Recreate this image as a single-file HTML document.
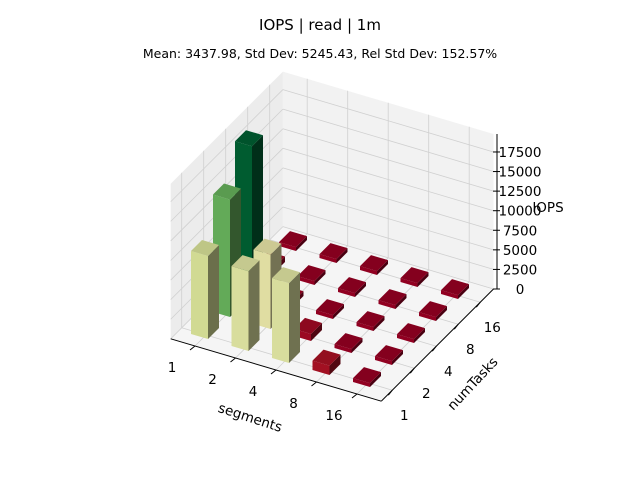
<!DOCTYPE html>
<html><head><meta charset="utf-8"><style>
body{margin:0;background:#fff;}
svg{display:block;font-family:"DejaVu Sans","Liberation Sans",sans-serif;}
</style></head><body>
<svg id="chart" width="640" height="480" viewBox="0 0 640 480">
<text x="320" y="30" text-anchor="middle" font-size="15">IOPS | read | 1m</text>
<text x="320" y="58" text-anchor="middle" font-size="12.5">Mean: 3437.98, Std Dev: 5245.43, Rel Std Dev: 152.57%</text>
<g id="panes"></g><g id="grid"></g><g id="bars"></g><g id="axes"></g>
</svg>
<script>
const segments = ["1","2","4","8","16"];
const numTasks = ["1","2","4","8","16"];
// rows indexed by numTasks, columns by segments
const iopsNt1 = [10600, 10200, 10200, 1200, 500];
const iopsNt2 = [15000, 9500, 900, 500, 500];
const iopsNt4 = [19000, 600, 500, 500, 500];
const iopsNt8 = [700, 500, 500, 500, 500];
const iopsNt16 = [500, 500, 500, 500, 500];
const zTicks = [0, 2500, 5000, 7500, 10000, 12500, 15000, 17500];

const iops = [iopsNt1, iopsNt2, iopsNt4, iopsNt8, iopsNt16];
const NS = "http://www.w3.org/2000/svg";
const S0 = -0.6, S1 = 4.6, T0 = -0.5, T1 = 4.6, ZMAX = 19800;
function P(s, t, z) {
  return [206 + 40.5 * s + 22 * t, 335 + 12 * s - 22 * t - z * 0.00783];
}
function PB(s, t, z) {
  const p = P(s, t, z);
  return [p[0] - 1, p[1] - 4];
}
function mk(tag, attrs, parent) {
  const e = document.createElementNS(NS, tag);
  for (const k in attrs) e.setAttribute(k, attrs[k]);
  parent.appendChild(e);
  return e;
}
function poly(pts) { return pts.map(p => p[0].toFixed(1) + "," + p[1].toFixed(1)).join(" "); }
const panes = document.getElementById("panes");
const grid = document.getElementById("grid");
const barsG = document.getElementById("bars");
const axesG = document.getElementById("axes");

let e;
e = mk("polygon", {points: poly([P(S0,T0,0),P(S1,T0,0),P(S1,T1,0),P(S0,T1,0)]), fill: "#f5f5f5"}, panes);


e = mk("polygon", {points: poly([P(S0,T0,0),P(S0,T1,0),P(S0,T1,ZMAX),P(S0,T0,ZMAX)]), fill: "#ececec"}, panes);


e = mk("polygon", {points: poly([P(S0,T1,0),P(S1,T1,0),P(S1,T1,ZMAX),P(S0,T1,ZMAX)]), fill: "#f2f2f2"}, panes);



function line(a, b, stroke, w, parent, name) {
  const l = mk("line", {x1: a[0], y1: a[1], x2: b[0], y2: b[1], stroke: stroke, "stroke-width": w}, parent);
  
  
  return l;
}
const GC = "#d0d0d0";
segments.forEach((lab, i) => {
  line(P(i,T0,0), P(i,T1,0), GC, 0.8, grid, 'floor-grid-segments');
  line(P(i,T1,0), P(i,T1,ZMAX), GC, 0.8, grid, 'backwall-grid-segments');
});
numTasks.forEach((lab, j) => {
  line(P(S0,j,0), P(S1,j,0), GC, 0.8, grid, 'floor-grid-numtasks');
  line(P(S0,j,0), P(S0,j,ZMAX), GC, 0.8, grid, 'leftwall-grid-numtasks');
});
zTicks.forEach(z => {
  line(P(S0,T0,z), P(S0,T1,z), GC, 0.8, grid, 'leftwall-grid-z');
  line(P(S0,T1,z), P(S1,T1,z), GC, 0.8, grid, 'backwall-grid-z');
});

const cmap = ["#a50026","#d73027","#f46d43","#fdae61","#fee08b","#ffffbf","#d9ef8b","#a6d96a","#66bd63","#1a9850","#006837"];
function hex(h){return [parseInt(h.substr(1,2),16),parseInt(h.substr(3,2),16),parseInt(h.substr(5,2),16)];}
function color(f, shade) {
  f = Math.max(0, Math.min(1, f)) * 10;
  const k = Math.min(9, Math.floor(f)), r = f - k;
  const a = hex(cmap[k]), b = hex(cmap[k+1]);
  const c = a.map((v, n) => Math.round((v + (b[n] - v) * r) * shade));
  return "rgb(" + c.join(",") + ")";
}
const all = iops.flat();
const vmin = Math.min(...all), vmax = Math.max(...all);
const list = [];
iops.forEach((row, j) => row.forEach((v, i) => list.push({i, j, v})));
list.sort((a, b) => (a.i - a.j) - (b.i - b.j));
const DS = 0.21, DT = 0.25;
list.forEach(b => {
  const f = (b.v - vmin) / (vmax - vmin);
  const s0 = b.i - DS, s1 = b.i + DS, t0 = b.j - DT, t1 = b.j + DT;
  const g = mk("g", {}, barsG);
  
  
  mk("polygon", {points: poly([PB(s0,t0,0),PB(s1,t0,0),PB(s1,t0,b.v),PB(s0,t0,b.v)]), fill: color(f, 0.88)}, g);
  mk("polygon", {points: poly([PB(s1,t0,0),PB(s1,t1,0),PB(s1,t1,b.v),PB(s1,t0,b.v)]), fill: color(f, 0.45)}, g);
  mk("polygon", {points: poly([PB(s0,t0,b.v),PB(s1,t0,b.v),PB(s1,t1,b.v),PB(s0,t1,b.v)]), fill: color(f, 0.8)}, g);
});

line(P(S0,T0,0), P(S1,T0,0), "#000", 1, axesG, 'segments-axis-line');
line(P(S1,T0,0), P(S1,T1,0), "#000", 1, axesG, 'numtasks-axis-line');
line([497,P(S1,T1,0)[1]], [497,P(S1,T1,ZMAX)[1]], "#000", 1, axesG, 'z-axis-line');
function txt(x, y, s, anchor, name, rot, size) {
  const t = mk("text", {x: x, y: y, "text-anchor": anchor || "middle", "font-size": size || 13.5, "dominant-baseline": "middle"}, axesG);
  if (rot) t.setAttribute("transform", "rotate(" + rot + " " + x + " " + y + ")");
  t.textContent = s;
  
  
}
segments.forEach((lab, i) => {
  const a = P(i, T0, 0);
  line(a, [a[0]-5, a[1]+4], "#000", 1, axesG, 'segments-tick');
  txt(a[0] - 23, a[1] + 22, lab, "middle", 'segments-tick-label');
});
numTasks.forEach((lab, j) => {
  const a = P(S1, j, 0);
  line(a, [a[0]-4, a[1]+5], "#000", 1, axesG, 'numtasks-tick');
  txt(a[0] + 12, a[1] + 26, lab, "middle", 'numtasks-tick-label');
});
zTicks.forEach(z => {
  const y = P(S1, T1, z)[1];
  line([493, y], [500, y], "#000", 1, axesG, 'z-tick');
  txt(520, y + 1, String(z), "middle", 'z-tick-label');
});
txt(250, 418, "segments", "middle", 'segments-axis-title', 18);
txt(473, 384, "numTasks", "middle", 'numtasks-axis-title', -47);
txt(548, 208, "IOPS", "middle", 'z-axis-title');
</script>
</body></html>
